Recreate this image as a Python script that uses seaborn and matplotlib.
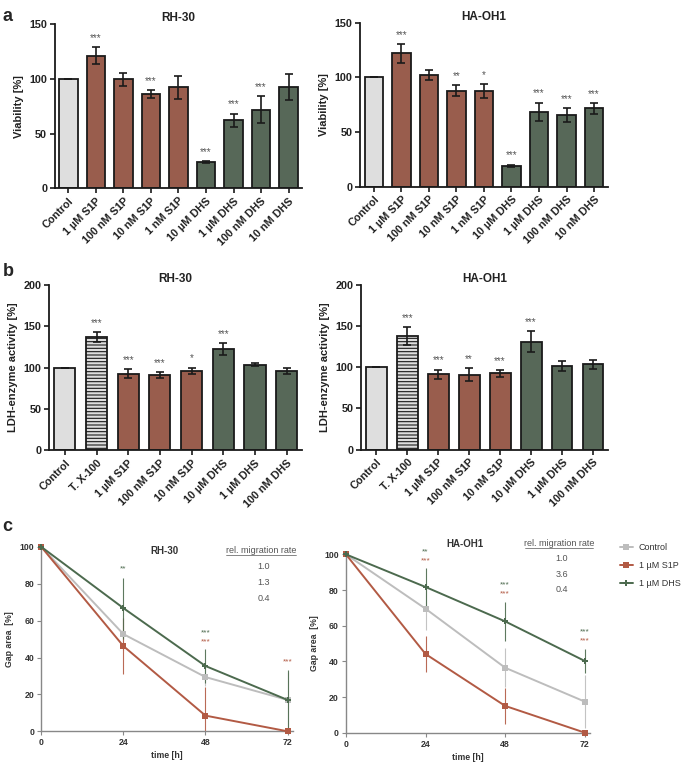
import numpy as np
import pandas as pd
import matplotlib
matplotlib.use("Agg")
import matplotlib.pyplot as plt
import seaborn as sns

sns.set_style("ticks")
plt.rcParams['font.family'] = ['Liberation Sans', 'DejaVu Sans']
plt.rcParams['hatch.color'] = '#555555'
plt.rcParams['hatch.linewidth'] = 0.8

# ---- data ----
via_labels = ['Control', '1 µM S1P', '100 nM S1P', '10 nM S1P', '1 nM S1P',
              '10 µM DHS', '1 µM DHS', '100 nM DHS', '10 nM DHS']
via_groups = ['c', 's', 's', 's', 's', 'd', 'd', 'd', 'd']
via_rh30 = [100, 121.5, 99.6, 86.5, 92.3, 23.8, 62, 72, 92.6]
via_rh30_err = [0, 7.5, 6, 3.6, 10.5, 1, 6.3, 12.5, 12.2]
via_rh30_sig = ['', '***', '', '***', '', '***', '***', '***', '']
via_ha = [100, 122, 102.4, 87.8, 87.5, 19.2, 68.6, 65.5, 71.6]
via_ha_err = [0, 8.4, 4.7, 5, 6.5, 1, 8.4, 6.7, 5]
via_ha_sig = ['', '***', '', '**', '*', '***', '***', '***', '***']

ldh_labels = ['Control', 'T. X-100', '1 µM S1P', '100 nM S1P', '10 nM S1P',
              '10 µM DHS', '1 µM DHS', '100 nM DHS']
ldh_groups = ['c', 't', 's', 's', 's', 'd', 'd', 'd']
ldh_rh30 = [100, 137.2, 92.7, 91.5, 96, 122.6, 103.6, 96]
ldh_rh30_err = [0, 6, 5.6, 3.6, 4, 7.5, 1.5, 3.8]
ldh_rh30_sig = ['', '***', '***', '***', '*', '***', '', '']
ldh_ha = [100, 137.4, 91.5, 90.9, 92.5, 130.5, 101.4, 103.4]
ldh_ha_err = [0, 11, 5.5, 7.5, 4.2, 12.7, 6.4, 5.8]
ldh_ha_sig = ['', '***', '***', '**', '***', '***', '', '']

time_h = [0, 24, 48, 72]
gap_rh30 = {'Control': [100, 52.7, 29.4, 17],
            '1 µM S1P': [100, 46.2, 8.5, 0],
            '1 µM DHS': [100, 66.8, 35.4, 17]}
gap_rh30_err = {'Control': [0, 8.5, 5, 15],
                '1 µM S1P': [0, 15, 15.5, 0],
                '1 µM DHS': [0, 16.5, 9, 16]}
gap_ha = {'Control': [100, 69.5, 36.4, 17.4],
          '1 µM S1P': [100, 44.1, 15, 0],
          '1 µM DHS': [100, 81.7, 62.4, 40.2]}
gap_ha_err = {'Control': [0, 12, 11, 15],
              '1 µM S1P': [0, 10, 10, 0],
              '1 µM DHS': [0, 10.5, 11, 7]}
# stars: (time, y, text, series)
stars_rh30 = [(24, 88, '**', '1 µM DHS'), (48, 53.5, '***', '1 µM DHS'),
              (48, 48.3, '***', '1 µM S1P'), (72, 37.5, '***', '1 µM S1P')]
stars_ha = [(24, 101.5, '**', '1 µM DHS'), (24, 96.2, '***', '1 µM S1P'),
            (48, 82.6, '***', '1 µM DHS'), (48, 77.6, '***', '1 µM S1P'),
            (72, 56.4, '***', '1 µM DHS'), (72, 51.4, '***', '1 µM S1P')]
rates_rh30 = ['1.0', '1.3', '0.4']
rates_ha = ['1.0', '3.6', '0.4']

bar_colors = {'c': '#dedede', 't': '#dedede', 's': '#a55641', 'd': '#546b56'}
line_colors = {'Control': '#bdbdbd', '1 µM S1P': '#b25a44', '1 µM DHS': '#4c6a4e'}
line_markers = {'Control': 's', '1 µM S1P': 's', '1 µM DHS': 'P'}

fig = plt.figure(figsize=(6.85, 7.62), dpi=100)


def bar_panel(rect, labels, groups, vals, errs, sigs, title, ylabel, ymax, ystep):
    ax = fig.add_axes(rect)
    df = pd.DataFrame({'label': labels, 'value': vals})
    pal = [bar_colors[g] for g in groups]
    sns.barplot(data=df, x='label', y='value', hue='label', palette=pal,
                legend=False, width=0.67, edgecolor='#1a1a1a', linewidth=1.3, ax=ax)
    for patch, g in zip(ax.patches, groups):
        if g == 't':
            patch.set_hatch('-----')
    x = np.arange(len(labels))
    ax.errorbar(x, vals, yerr=errs, fmt='none', ecolor='#1a1a1a',
                elinewidth=1.2, capsize=3, capthick=1.2)
    for xi, v, e, s in zip(x, vals, errs, sigs):
        if s:
            ax.text(xi, v + e + ymax * 0.025, s, ha='center', va='bottom',
                    fontsize=7, color='#555555')
    ax.set_xlim(-0.49, len(labels) - 0.51)
    ax.set_ylim(0, ymax)
    ax.set_yticks(np.arange(0, ymax + 1, ystep))
    ax.set_xlabel('')
    ax.set_ylabel(ylabel, fontsize=8, fontweight='bold', color='#222222')
    ax.set_title(title, fontsize=8.5, fontweight='bold', pad=2, color='#222222')
    ax.set_xticks(x)
    ax.set_xticklabels(labels, rotation=45, ha='right', rotation_mode='anchor',
                       fontsize=7.8, fontweight='bold', color='#222222')
    for t in ax.get_yticklabels():
        t.set_fontsize(7.8)
        t.set_fontweight('bold')
        t.set_color('#222222')
    sns.despine(ax=ax)
    for sp in ['left', 'bottom']:
        ax.spines[sp].set_linewidth(1.3)
        ax.spines[sp].set_color('#1a1a1a')
    ax.tick_params(width=1.2, length=3.5, pad=2, color='#1a1a1a')
    return ax


def line_panel(rect, gaps, gerrs, stars, rates, title, title_y, rate_y):
    ax = fig.add_axes(rect)
    rows = []
    for name, vals in gaps.items():
        for t, v in zip(time_h, vals):
            rows.append({'time': t, 'gap': v, 'series': name})
    df = pd.DataFrame(rows)
    sns.lineplot(data=df, x='time', y='gap', hue='series', style='series',
                 palette=line_colors, markers=line_markers, dashes=False,
                 markersize=4.5, linewidth=1.4, markeredgewidth=0,
                 legend=False, ax=ax, clip_on=False, zorder=3)
    for name in gaps:
        ax.errorbar(time_h, gaps[name], yerr=gerrs[name], fmt='none',
                    ecolor=line_colors[name], elinewidth=0.8, capsize=0, alpha=0.9)
    for t, y, s, name in stars:
        ax.text(t, y, s, ha='center', va='center', fontsize=6,
                color=line_colors[name], clip_on=False)
    ax.text(36, title_y, title, ha='center', va='center', fontsize=7,
            fontweight='bold', color='#333333', clip_on=False)
    ax.text(64.2, rate_y, 'rel. migration rate', ha='center', va='center',
            fontsize=6.5, color='#555555', clip_on=False)
    ax.plot([54, 74.4], [rate_y - 2.5, rate_y - 2.5], color='#555555',
            lw=0.5, clip_on=False)
    for i, r in enumerate(rates):
        ax.text(65, rate_y - 8.6 * (i + 1), r, ha='center', va='center',
                fontsize=6.5, color='#555555', clip_on=False)
    ax.set_xlim(0, 73.5)
    ax.set_ylim(0, 100)
    ax.set_xticks(time_h)
    ax.set_yticks(np.arange(0, 101, 20))
    ax.set_xlabel('time [h]', fontsize=6.3, fontweight='bold', color='#333333', labelpad=3)
    ax.set_ylabel('Gap area  [%]', fontsize=6.3, fontweight='bold', color='#333333', labelpad=4)
    for t in ax.get_xticklabels() + ax.get_yticklabels():
        t.set_fontsize(6.3)
        t.set_fontweight('bold')
        t.set_color('#333333')
    sns.despine(ax=ax)
    for sp in ['left', 'bottom']:
        ax.spines[sp].set_linewidth(1.0)
        ax.spines[sp].set_color('#888888')
    ax.tick_params(width=0.8, length=3, pad=2, color='#888888')
    return ax


bar_panel([0.080, 0.753, 0.361, 0.215], via_labels, via_groups, via_rh30,
          via_rh30_err, via_rh30_sig, 'RH-30', 'Viability [%]', 150, 50)
bar_panel([0.526, 0.755, 0.361, 0.215], via_labels, via_groups, via_ha,
          via_ha_err, via_ha_sig, 'HA-OH1', 'Viability [%]', 150, 50)
bar_panel([0.072, 0.409, 0.369, 0.217], ldh_labels, ldh_groups, ldh_rh30,
          ldh_rh30_err, ldh_rh30_sig, 'RH-30', 'LDH-enzyme activity [%]', 200, 50)
bar_panel([0.527, 0.410, 0.361, 0.2165], ldh_labels, ldh_groups, ldh_ha,
          ldh_ha_err, ldh_ha_sig, 'HA-OH1', 'LDH-enzyme activity [%]', 200, 50)

line_panel([0.0603, 0.0403, 0.367, 0.242], gap_rh30, gap_rh30_err, stars_rh30,
           rates_rh30, 'RH-30', 98, 98)
axr = line_panel([0.505, 0.0385, 0.356, 0.234], gap_ha, gap_ha_err, stars_ha,
                 rates_ha, 'HA-OH1', 106, 106)

# legend
handles = [plt.Line2D([], [], color=line_colors[n], marker=line_markers[n],
                      markersize=4.5, markeredgewidth=0, lw=1.4) for n in gap_ha]
fig.legend(handles, list(gap_ha.keys()), loc='upper left',
           bbox_to_anchor=(0.902, 0.29), frameon=False, fontsize=6.5,
           handlelength=1.5, handletextpad=0.6, labelspacing=1.0,
           borderaxespad=0, borderpad=0.2, labelcolor='#333333')

fig.text(0.004, 0.99, 'a', fontsize=13, fontweight='bold', va='top')
fig.text(0.004, 0.655, 'b', fontsize=13, fontweight='bold', va='top')
fig.text(0.004, 0.32, 'c', fontsize=13, fontweight='bold', va='top')

fig.savefig('out.png', dpi=100)
